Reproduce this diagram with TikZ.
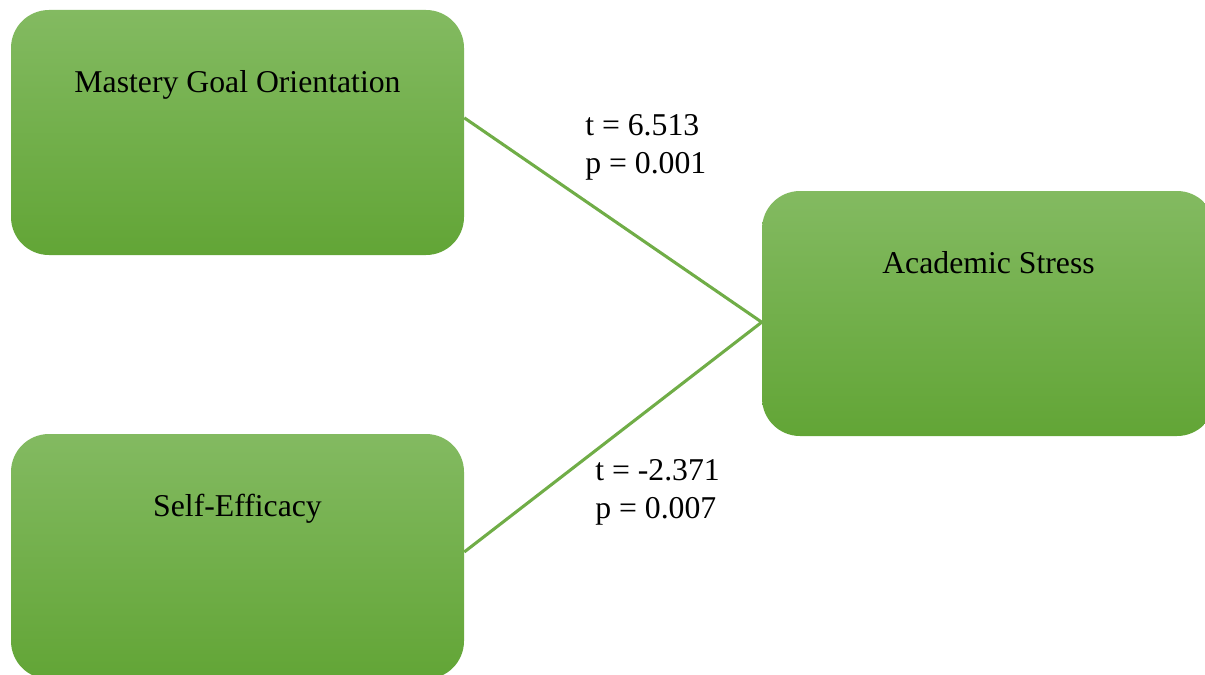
\documentclass[tikz,border=0pt]{standalone}
\usepackage{fontspec}
\setmainfont{Liberation Serif}
\definecolor{gtop}{RGB}{131,186,97}
\definecolor{gbot}{RGB}{98,165,54}
\definecolor{gline}{RGB}{112,173,71}
\tikzset{
  greenbox/.style={rectangle, rounded corners=28.5pt, minimum width=339.75pt,
    minimum height=183.75pt, inner sep=0pt, top color=gtop, bottom color=gbot, draw=none},
  boxtext/.style={anchor=base, inner sep=0pt, font=\fontsize{23.8pt}{28.5pt}\selectfont},
  stat/.style={anchor=base west, inner sep=0pt, font=\fontsize{23.8pt}{28.5pt}\selectfont},
  link/.style={draw=gline, line width=2.3pt},
}
\begin{document}
\begin{tikzpicture}[x=0.75pt, y=-0.75pt]
\useasboundingbox (0,0) rectangle (1205,674);
\clip (0,0) rectangle (1205,674);
\node[greenbox] (mgo) at (237.5,132.5) {};
\node[greenbox] (se) at (237.5,556.5) {};
\node[greenbox] (as) at (988.5,313.5) {};
\node[boxtext] (mgot) at ([yshift=-62.25pt]mgo.north) {Mastery Goal Orientation};
\node[boxtext] (set) at ([yshift=-62.25pt]se.north) {Self-Efficacy};
\node[boxtext] (ast) at ([yshift=-62.25pt]as.north) {Academic Stress};
\coordinate (m1) at ([yshift=11pt]mgo.east);
\coordinate (s1) at ([yshift=3.4pt]se.east);
\coordinate (a1) at ([yshift=-6.5pt]as.west);
\draw[link] (m1) -- (a1);
\draw[link] (s1) -- (a1);
\node[stat] (t1) at (585,135) {t = 6.513};
\node[stat] (p1) at (585,173) {p = 0.001};
\node[stat] (t2) at (595,480) {t = -2.371};
\node[stat] (p2) at (595,518) {p = 0.007};
\end{tikzpicture}
\end{document}
